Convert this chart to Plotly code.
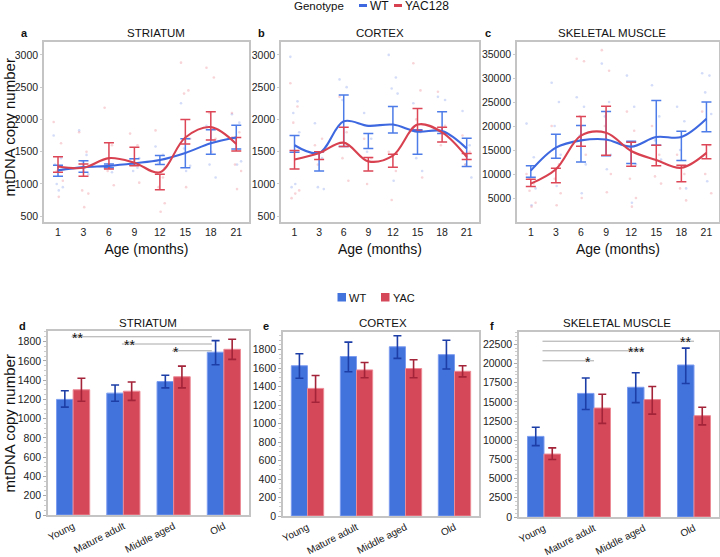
import plotly.graph_objects as go

# ---------------- data ----------------
months = [1, 3, 6, 9, 12, 15, 18, 21]
groups = ["Young", "Mature adult", "Middle aged", "Old"]
genotypes_top = ["WT", "YAC128"]
genotypes_bot = ["WT", "YAC"]

# Time-course panels: smooth fit values, error-bar low/high per month
str_wt_fit = [1210, 1260, 1280, 1320, 1370, 1480, 1630, 1720]
str_yac_fit = [1270, 1250, 1400, 1330, 1180, 1720, 1880, 1620]
str_wt_lo = [1120, 1180, 1250, 1290, 1300, 1250, 1460, 1540]
str_wt_hi = [1290, 1360, 1310, 1390, 1440, 1700, 1840, 1910]
str_yac_lo = [1180, 1120, 1230, 1280, 910, 1620, 1680, 1510]
str_yac_hi = [1420, 1310, 1640, 1570, 1150, 2000, 2120, 1720]

ctx_wt_fit = [1600, 1480, 1970, 1900, 1920, 1810, 1820, 1550]
ctx_yac_fit = [1380, 1480, 1640, 1350, 1440, 1920, 1800, 1420]
ctx_wt_lo = [1490, 1200, 1580, 1550, 1790, 1460, 1780, 1270]
ctx_wt_hi = [1750, 1500, 2380, 1780, 2200, 1840, 2120, 1710]
ctx_yac_lo = [1230, 1380, 1580, 1200, 1260, 1830, 1650, 1380]
ctx_yac_hi = [1520, 1500, 1880, 1410, 1460, 2170, 1880, 1470]

mus_wt_fit = [10700, 15500, 17000, 17200, 15700, 17700, 17700, 21500]
mus_yac_fit = [8000, 11000, 18000, 18600, 14800, 12900, 11300, 14400]
mus_wt_lo = [9300, 13300, 12500, 13800, 12200, 16000, 12800, 18800]
mus_wt_hi = [11700, 18300, 20100, 23000, 16800, 25300, 18900, 25000]
mus_yac_lo = [7400, 8200, 15800, 13900, 11600, 11700, 8400, 13200]
mus_yac_hi = [8900, 11200, 22000, 24100, 16600, 16000, 11800, 16100]

# individual animals (approximate readings)
str_wt_pts = [[1750, 1400, 1000, 950, 900, 1300], [1830, 1450, 1350, 1150], [1250, 1180, 1300],
              [1380, 1250, 1200, 1400], [1580, 1450, 1320, 1250], [2250, 1700, 1550, 1280, 1200],
              [1900, 1650, 1300, 1100], [2080, 1950, 1700, 1350, 1300]]
str_yac_pts = [[1960, 1630, 1200, 1050, 800], [1800, 1500, 900, 850, 640], [2180, 1600, 1200, 980],
               [1780, 1600, 1300, 1020], [1830, 1100, 950, 700, 570], [2880, 2450, 2400, 1700, 950],
               [2800, 2650, 2100, 1700, 1500], [2100, 1800, 1300, 1200, 920]]
ctx_wt_pts = [[2970, 2280, 2100, 1800, 1000, 950], [1940, 1400, 950, 920], [2620, 2500, 2300, 1600],
              [2100, 1700, 1500], [3000, 2650, 2480, 2400, 1050], [2250, 1800, 1400, 1200],
              [2350, 2300, 1800], [2130, 1600, 1300, 1100]]
ctx_yac_pts = [[2560, 2200, 1950, 900, 850, 780], [1600, 1700, 1300], [2350, 1800, 1400, 1050],
               [1700, 1400, 1000], [1500, 1200, 750], [2870, 2450, 2000, 1100],
               [2430, 1900, 1600], [1750, 1500, 1300]]
mus_wt_pts = [[20500, 13500, 9000, 7000, 3500], [29000, 25000, 20000, 14000, 7500],
              [26000, 24000, 18000, 12000, 6000], [33000, 25000, 22000, 14000, 11000],
              [30500, 24000, 15000, 12000, 4000], [28500, 22000, 17000, 13000],
              [24000, 21000, 15000, 7000], [31000, 30500, 27000, 22500, 8500]]
mus_yac_pts = [[10000, 8000, 6500, 4000, 3200], [20000, 12000, 9000, 6000, 3500],
               [34000, 33500, 22000, 14000, 5000], [35800, 31500, 20000, 10000, 6200],
               [23000, 19000, 9000, 5000, 3200], [20000, 14000, 9500, 8000],
               [14000, 10000, 7000, 4500], [23000, 16000, 10000, 6000]]

# Age-group bar panels: mean, low, high
bstr_wt = [1200, 1265, 1385, 1690]
bstr_wt_lo = [1120, 1180, 1320, 1560]
bstr_wt_hi = [1290, 1350, 1450, 1810]
bstr_yac = [1300, 1285, 1435, 1720]
bstr_yac_lo = [1180, 1190, 1320, 1615]
bstr_yac_hi = [1420, 1380, 1545, 1825]

bctx_wt = [1625, 1725, 1830, 1745]
bctx_wt_lo = [1490, 1560, 1705, 1590]
bctx_wt_hi = [1755, 1880, 1950, 1900]
bctx_yac = [1380, 1580, 1595, 1565]
bctx_yac_lo = [1230, 1495, 1495, 1505]
bctx_yac_hi = [1520, 1660, 1690, 1625]

bmus_wt = [10500, 16100, 16900, 19800]
bmus_wt_lo = [9300, 14000, 14900, 17400]
bmus_wt_hi = [11700, 18100, 18800, 22000]
bmus_yac = [8200, 14200, 15300, 13200]
bmus_yac_lo = [7500, 12200, 13400, 12000]
bmus_yac_hi = [9000, 16000, 17000, 14300]

# ---------------- styling ----------------
FONT = "Liberation Sans, Arial, Helvetica, sans-serif"
BLUE_LINE = "#3d68e0"
RED_LINE = "#d8414f"
BLUE_ERR = "#4d7ce8"
RED_ERR = "#dc4657"
BLUE_DOT = "rgba(120,150,235,0.33)"
RED_DOT = "rgba(235,120,135,0.33)"
BLUE_BAR = "#4272dc"
RED_BAR = "#d5485a"
BLUE_BERR = "#1d3ea6"
RED_BERR = "#a32338"
W, H = 720, 557

def px_x(a, b):
    return [a / W, b / W]

def px_y(top, bot):
    return [1 - bot / H, 1 - top / H]

fig = go.Figure()
idx = list(range(len(months)))
jit = [-0.17, 0.12, -0.05, 0.19, 0.03, -0.12, 0.15]

def time_panel(n, fit_w, fit_y, lo_w, hi_w, lo_y, hi_y, pts_w, pts_y):
    xa, ya = ("x" if n == 1 else f"x{n}"), ("y" if n == 1 else f"y{n}")
    for pts, col in ((pts_w, BLUE_DOT), (pts_y, RED_DOT)):
        xs, ys = [], []
        for i, vals in enumerate(pts):
            for k, v in enumerate(vals):
                xs.append(i + jit[k % len(jit)])
                ys.append(v)
        fig.add_trace(go.Scatter(x=xs, y=ys, mode="markers", xaxis=xa, yaxis=ya,
                                 marker=dict(size=2.6, color=col), showlegend=False, hoverinfo="skip"))
    for lo, hi, col in ((lo_w, hi_w, BLUE_ERR), (lo_y, hi_y, RED_ERR)):
        mid = [(a + b) / 2 for a, b in zip(lo, hi)]
        fig.add_trace(go.Scatter(x=idx, y=mid, mode="markers", xaxis=xa, yaxis=ya,
                                 marker=dict(size=1, color="rgba(0,0,0,0)"), showlegend=False,
                                 error_y=dict(type="data", array=[h - m for h, m in zip(hi, mid)],
                                              color=col, thickness=1.5, width=5)))
    for fit, col, nm in ((fit_w, BLUE_LINE, genotypes_top[0]), (fit_y, RED_LINE, genotypes_top[1])):
        fig.add_trace(go.Scatter(x=idx, y=fit, mode="lines", xaxis=xa, yaxis=ya, name=nm,
                                 line=dict(color=col, width=2.1, shape="spline", smoothing=1.0),
                                 showlegend=False))

time_panel(1, str_wt_fit, str_yac_fit, str_wt_lo, str_wt_hi, str_yac_lo, str_yac_hi,
           str_wt_pts, str_yac_pts)
time_panel(2, ctx_wt_fit, ctx_yac_fit, ctx_wt_lo, ctx_wt_hi, ctx_yac_lo, ctx_yac_hi,
           ctx_wt_pts, ctx_yac_pts)
time_panel(3, mus_wt_fit, mus_yac_fit, mus_wt_lo, mus_wt_hi, mus_yac_lo, mus_yac_hi,
           mus_wt_pts, mus_yac_pts)

gidx = list(range(len(groups)))

def bar_panel(n, wt, wlo, whi, yac, ylo, yhi):
    xa, ya = f"x{n}", f"y{n}"
    for vals, lo, hi, col, lcol, ecol, nm, og in (
            (wt, wlo, whi, BLUE_BAR, "#7c9cf0", BLUE_BERR, genotypes_bot[0], "wt"),
            (yac, ylo, yhi, RED_BAR, "#ec8a96", RED_BERR, genotypes_bot[1], "yac")):
        fig.add_trace(go.Bar(x=gidx, y=vals, xaxis=xa, yaxis=ya, name=nm, offsetgroup=og,
                             marker=dict(color=col, line=dict(color=lcol, width=1)),
                             error_y=dict(type="data", array=[h - m for h, m in zip(hi, vals)],
                                          arrayminus=[m - l for m, l in zip(vals, lo)],
                                          color=ecol, thickness=1.6, width=4),
                             showlegend=False))

bar_panel(4, bstr_wt, bstr_wt_lo, bstr_wt_hi, bstr_yac, bstr_yac_lo, bstr_yac_hi)
bar_panel(5, bctx_wt, bctx_wt_lo, bctx_wt_hi, bctx_yac, bctx_yac_lo, bctx_yac_hi)
bar_panel(6, bmus_wt, bmus_wt_lo, bmus_wt_hi, bmus_yac, bmus_yac_lo, bmus_yac_hi)

# ---------------- axes ----------------
tick_font = dict(family=FONT, size=10.5, color="#222")
frame = dict(showline=True, mirror=True, linecolor="#c4c4c4", linewidth=1.5,
             showgrid=False, zeroline=False)

top_dom = px_y(42, 222)
top_x = [px_x(44, 249), px_x(281, 479), px_x(517, 719)]
top_yr = [[410, 3200], [410, 3200], [0, 37500]]
top_yt = [list(range(500, 3001, 500)), list(range(500, 3001, 500)), list(range(5000, 35001, 5000))]
for i in range(3):
    sx = "" if i == 0 else str(i + 1)
    fig.layout["xaxis" + sx] = dict(domain=top_x[i], range=[-0.55, 7.5], tickvals=idx,
                                    ticktext=[str(m) for m in months], tickfont=tick_font,
                                    anchor="y" + sx, ticks="", automargin=False,
                                    title=dict(text="Age (months)", standoff=7,
                                               font=dict(family=FONT, size=14, color="#111")),
                                    **frame)
    fig.layout["yaxis" + sx] = dict(domain=top_dom, range=top_yr[i], tickvals=top_yt[i],
                                    tickformat="d", tickfont=tick_font, anchor="x" + sx,
                                    ticks="outside", ticklen=2, tickcolor="#ccc",
                                    automargin=False, **frame)

bot_x = [px_x(48, 249), px_x(283, 479), px_x(519, 719)]
bot_y = [px_y(331, 515), px_y(332, 516), px_y(332, 517)]
bot_yr = [[0, 1910], [0, 1990], [0, 24100]]
bot_dt = [200, 200, 2500]
bot_mn = [50, 50, 500]
for i in range(3):
    n = str(i + 4)
    fig.layout["xaxis" + n] = dict(domain=bot_x[i], range=[-0.5, 3.5], tickvals=gidx, ticktext=groups,
                                   tickangle=-27, tickfont=dict(family=FONT, size=10, color="#222"),
                                   anchor="y" + n, ticks="", automargin=False, **frame)
    fig.layout["yaxis" + n] = dict(domain=bot_y[i], range=bot_yr[i], dtick=bot_dt[i], tick0=0,
                                   tickformat="d", tickfont=tick_font, anchor="x" + n,
                                   ticks="outside", ticklen=3, tickcolor="#aaa", automargin=False,
                                   minor=dict(ticks="outside", ticklen=2, dtick=bot_mn[i], tickcolor="#ccc"),
                                   **frame)

# ---------------- annotations ----------------
ann = []
shapes = []
def txt(x, y, t, size=11, bold=False, xanchor="center", angle=0):
    ann.append(dict(x=x / W, y=1 - y / H, xref="paper", yref="paper", text=f"<b>{t}</b>" if bold else t,
                    showarrow=False, xanchor=xanchor, yanchor="middle", textangle=angle,
                    font=dict(family=FONT, size=size, color="#111")))

# y-axis titles
txt(8.5, 128, "mtDNA copy number", size=15, angle=-90)
txt(8.5, 424, "mtDNA copy number", size=15, angle=-90)

for t, x, y in (("a", 19, 33), ("b", 256, 33), ("c", 483, 33), ("d", 17, 326), ("e", 261, 326), ("f", 488, 326)):
    txt(x, y, t, size=11, bold=True, xanchor="left")
for t, x, y in (("STRIATUM", 156, 33), ("CORTEX", 380, 33), ("SKELETAL MUSCLE", 612, 33),
                ("STRIATUM", 148, 323), ("CORTEX", 383, 323), ("SKELETAL MUSCLE", 617, 323)):
    txt(x, y, t, size=11.5)

# legend (top): Genotype  -WT  -YAC128
txt(292, 6, "Genotype", size=11.5, xanchor="left")
for x0, x1, col, lab, lx in ((359, 367, BLUE_LINE, genotypes_top[0], 368),
                             (394, 402, RED_LINE, genotypes_top[1], 403)):
    shapes.append(dict(type="line", xref="paper", yref="paper", x0=x0 / W, x1=x1 / W,
                       y0=1 - 5.5 / H, y1=1 - 5.5 / H, line=dict(color=col, width=3)))
    txt(lx, 6, lab, size=12, xanchor="left")

# legend (bottom): squares WT / YAC
for x0, col, lab in ((337.5, BLUE_BAR, genotypes_bot[0]), (381, RED_BAR, genotypes_bot[1])):
    shapes.append(dict(type="rect", xref="paper", yref="paper", x0=x0 / W, x1=(x0 + 8.5) / W,
                       y0=1 - 301.5 / H, y1=1 - 293 / H, fillcolor=col, line=dict(width=0)))
    txt(x0 + 9.5, 297.5, lab, size=11, xanchor="left")

def sig(n, x0, x1, y, star, sx):
    shapes.append(dict(type="line", xref=f"x{n}", yref=f"y{n}", x0=x0, x1=x1, y0=y, y1=y,
                       line=dict(color="#a8a8a8", width=1)))
    ann.append(dict(x=sx, y=y, xref=f"x{n}", yref=f"y{n}", text=star, showarrow=False,
                    xanchor="center", yanchor="middle", yshift=-1,
                    font=dict(family=FONT, size=14, color="#111")))

sig(4, -0.03, 2.76, 1850, "**", 0.09)
sig(4, 0.97, 2.76, 1775, "**", 1.13)
sig(4, 1.97, 2.76, 1705, "*", 2.05)
sig(6, -0.03, 3.0, 22900, "**", 2.82)
sig(6, -0.03, 2.0, 21650, "***", 1.85)
sig(6, -0.03, 1.0, 20350, "*", 0.87)

fig.update_layout(
    width=W, height=H, margin=dict(l=0, r=0, t=0, b=0),
    paper_bgcolor="white", plot_bgcolor="white",
    font=dict(family=FONT, size=11, color="#111"),
    barmode="group", bargap=0.34, bargroupgap=0.0,
    annotations=ann, shapes=shapes, showlegend=False,
)

fig.write_html("out.html", config={"displayModeBar": False},
               post_script="document.body.style.margin='0';")
